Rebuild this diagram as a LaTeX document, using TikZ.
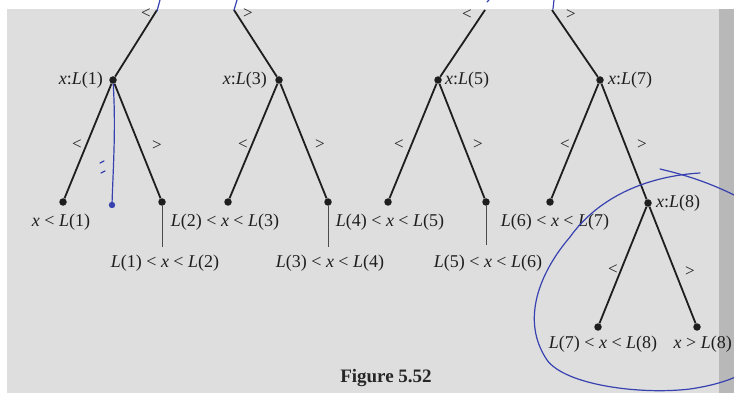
\documentclass[tikz,border=0pt]{standalone}
\usepackage{fontspec}
\setmainfont{Liberation Serif}
\definecolor{pen}{RGB}{55,65,175}
\definecolor{bg}{RGB}{222,222,222}
\definecolor{ink}{RGB}{30,30,30}
\tikzset{
  dot/.style={circle,fill=ink,inner sep=0pt,minimum size=7.5pt},
  edge/.style={draw=ink,line width=1.8pt},
  thin/.style={draw=ink!80,line width=0.9pt},
  lbl/.style={font=\fontsize{18}{20}\selectfont,text=ink,inner sep=1pt},
  sgn/.style={font=\fontsize{17}{19}\selectfont,text=ink,inner sep=0pt},
  bluepen/.style={draw=pen,line width=1.2pt,line cap=round}
}
\newcommand{\vi}[1]{\textit{#1}}
\begin{document}
\begin{tikzpicture}[x=1pt,y=-1pt]
\useasboundingbox (0,0) rectangle (734,393);
\fill[white] (0,0) rectangle (734,393);
\fill[bg] (7,9) rectangle (734,393);
\fill[black!28] (719,9) rectangle (734,393);
\begin{scope}
\clip (0,0) rectangle (734,393);
% top entry points
\coordinate (t1) at (157,10);
\coordinate (t2) at (234,10);
\coordinate (t3) at (485,10);
\coordinate (t4) at (552,10);
% internal nodes
\node[dot] (n1) at (113,80) {};
\node[dot] (n3) at (279,80) {};
\node[dot] (n5) at (438,80) {};
\node[dot] (n7) at (600,80) {};
\node[dot] (n8) at (648,203) {};
% leaves
\node[dot] (a1) at (63,202) {};
\node[dot] (b1) at (162,202) {};
\node[dot] (a3) at (228,202) {};
\node[dot] (b3) at (328,202) {};
\node[dot] (a5) at (388,202) {};
\node[dot] (b5) at (486,202) {};
\node[dot] (a7) at (550,202) {};
\node[dot] (a8) at (598,327) {};
\node[dot] (b8) at (697,327) {};
% edges
\draw[edge] (t1) -- (n1);
\draw[edge] (t2) -- (n3);
\draw[edge] (t3) -- (n5);
\draw[edge] (t4) -- (n7);
\draw[edge] (n1) -- (a1);
\draw[edge] (n1) -- (b1);
\draw[edge] (n3) -- (a3);
\draw[edge] (n3) -- (b3);
\draw[edge] (n5) -- (a5);
\draw[edge] (n5) -- (b5);
\draw[edge] (n7) -- (a7);
\draw[edge] (n7) -- (n8);
\draw[edge] (n8) -- (a8);
\draw[edge] (n8) -- (b8);
% node labels
\node[lbl,anchor=east] (l1) at (104,80) {\vi{x}:\vi{L}(1)};
\node[lbl,anchor=east] (l3) at (268,80) {\vi{x}:\vi{L}(3)};
\node[lbl,anchor=west] (l5) at (444,80) {\vi{x}:\vi{L}(5)};
\node[lbl,anchor=west] (l7) at (607,80) {\vi{x}:\vi{L}(7)};
\node[lbl,anchor=west] (l8) at (655,203) {\vi{x}:\vi{L}(8)};
% edge signs
\node[sgn] (s1) at (146,14) {<};
\node[sgn] (s2) at (248,14) {>};
\node[sgn] (s3) at (467,15) {<};
\node[sgn] (s4) at (571,15) {>};
\node[sgn] (s5) at (77,145) {<};
\node[sgn] (s6) at (157,146) {>};
\node[sgn] (s7) at (243,145) {<};
\node[sgn] (s8) at (320,145) {>};
\node[sgn] (s9) at (399,145) {<};
\node[sgn] (s10) at (478,145) {>};
\node[sgn] (s11) at (565,145) {<};
\node[sgn] (s12) at (642,145) {>};
\node[sgn] (s13) at (613,270) {<};
\node[sgn] (s14) at (690,272) {>};
% leaf labels
\node[lbl] (x1) at (61,222) {\vi{x} < \vi{L}(1)};
\node[lbl] (x3) at (225,222) {\vi{L}(2) < \vi{x} < \vi{L}(3)};
\node[lbl] (x5) at (390,222) {\vi{L}(4) < \vi{x} < \vi{L}(5)};
\node[lbl] (x7) at (555,222) {\vi{L}(6) < \vi{x} < \vi{L}(7)};
\node[lbl] (y1) at (165,263) {\vi{L}(1) < \vi{x} < \vi{L}(2)};
\node[lbl] (y3) at (330,263) {\vi{L}(3) < \vi{x} < \vi{L}(4)};
\node[lbl] (y5) at (488,263) {\vi{L}(5) < \vi{x} < \vi{L}(6)};
\node[lbl] (x8) at (603,344) {\vi{L}(7) < \vi{x} < \vi{L}(8)};
\node[lbl,anchor=east] (y8) at (733,344) {\vi{x} > \vi{L}(8)};
% pointer ends
\coordinate (e1) at (162,247);
\coordinate (e3) at (328,247);
\coordinate (e5) at (486,245);
\draw[thin] (b1) -- (e1);
\draw[thin] (b3) -- (e3);
\draw[thin] (b5) -- (e5);
% caption
\node[font=\bfseries\fontsize{19}{21}\selectfont,text=black!85] (cap) at (386,378) {Figure 5.52};
% blue pen marks
\draw[bluepen] (160,0) -- (157,11);
\draw[bluepen] (237,0) -- (234,10);
\draw[bluepen] (489,0) -- (487,2);
\draw[bluepen] (554,0) -- (553,9);
\coordinate (bd) at (112,205);
\draw[bluepen] (n1) .. controls (116,130) and (113,170) .. (bd);
\fill[pen] (bd) circle (3.2pt);
\draw[bluepen] (100,163) -- (104,161);
\draw[bluepen] (101,173) -- (105,171);
\draw[bluepen] (700,173) .. controls (650,176) and (600,195) .. (570,237)
  .. controls (540,272) and (520,320) .. (547,360)
  .. controls (565,385) and (640,395) .. (690,389)
  .. controls (710,386) and (725,382) .. (740,375);
\draw[bluepen] (660,169) .. controls (690,176) and (715,185) .. (740,198);
\end{scope}
\end{tikzpicture}
\end{document}
